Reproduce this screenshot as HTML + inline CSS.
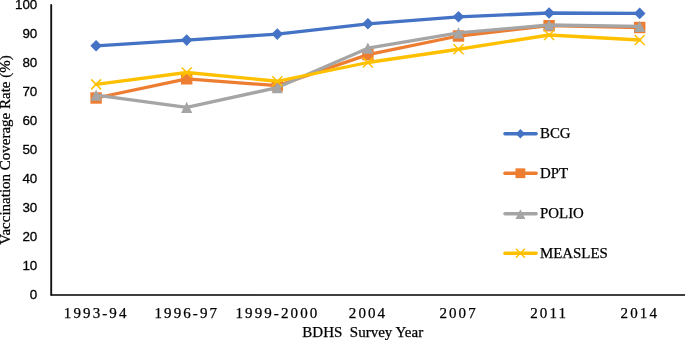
<!DOCTYPE html>
<html><head><meta charset="utf-8"><title>Vaccination coverage</title>
<style>
html,body{margin:0;padding:0;background:#fff;}
body{width:685px;height:340px;overflow:hidden;position:relative;}
svg{position:absolute;left:0;top:0;display:block;}
.yt{font-family:"Liberation Sans","DejaVu Sans",sans-serif;font-size:13.4px;fill:#000;text-anchor:end;stroke:#000;stroke-width:0.3px;}
.xt{font-family:"Liberation Serif",serif;font-size:15px;fill:#000;stroke:#000;stroke-width:0.25px;text-anchor:middle;letter-spacing:2.1px;}
.lg{font-family:"Liberation Serif",serif;font-size:14.9px;fill:#000;stroke:#000;stroke-width:0.25px;}
.ti{font-family:"Liberation Serif",serif;font-size:15px;fill:#000;stroke:#000;stroke-width:0.25px;}
</style></head><body>
<svg width="685" height="340" viewBox="0 0 685 340">
<rect width="685" height="340" fill="#fff"/>
<path d="M51.2 4.9V294.7" fill="none" stroke="#141414" stroke-width="1.9" stroke-linecap="round"/>
<path d="M51.4 295.0H686" fill="none" stroke="#000" stroke-width="1.7" stroke-linecap="round"/>
<text class="yt" x="37.3" y="299.10">0</text>
<text class="yt" x="37.3" y="270.11">10</text>
<text class="yt" x="37.3" y="241.12">20</text>
<text class="yt" x="37.3" y="212.13">30</text>
<text class="yt" x="37.3" y="183.14">40</text>
<text class="yt" x="37.3" y="154.15">50</text>
<text class="yt" x="37.3" y="125.16">60</text>
<text class="yt" x="37.3" y="96.17">70</text>
<text class="yt" x="37.3" y="67.18">80</text>
<text class="yt" x="37.3" y="38.19">90</text>
<text class="yt" x="37.3" y="9.20">100</text>
<polyline points="96.10,45.80 186.70,40.10 277.30,34.10 367.90,23.80 458.50,16.80 549.10,13.00 639.70,13.40" fill="none" stroke="#4472C4" stroke-width="3.3" stroke-linejoin="round" stroke-linecap="round"/>
<path d="M90.30 45.80L96.10 40.00L101.90 45.80L96.10 51.60Z" fill="#4472C4"/>
<path d="M180.90 40.10L186.70 34.30L192.50 40.10L186.70 45.90Z" fill="#4472C4"/>
<path d="M271.50 34.10L277.30 28.30L283.10 34.10L277.30 39.90Z" fill="#4472C4"/>
<path d="M362.10 23.80L367.90 18.00L373.70 23.80L367.90 29.60Z" fill="#4472C4"/>
<path d="M452.70 16.80L458.50 11.00L464.30 16.80L458.50 22.60Z" fill="#4472C4"/>
<path d="M543.30 13.00L549.10 7.20L554.90 13.00L549.10 18.80Z" fill="#4472C4"/>
<path d="M633.90 13.40L639.70 7.60L645.50 13.40L639.70 19.20Z" fill="#4472C4"/>
<polyline points="96.10,98.00 186.70,78.80 277.30,85.70 367.90,54.60 458.50,36.00 549.10,25.70 639.70,27.50" fill="none" stroke="#ED7D31" stroke-width="3.3" stroke-linejoin="round" stroke-linecap="round"/>
<rect x="90.40" y="92.30" width="11.40" height="11.40" fill="#ED7D31"/>
<rect x="181.00" y="73.10" width="11.40" height="11.40" fill="#ED7D31"/>
<rect x="271.60" y="80.00" width="11.40" height="11.40" fill="#ED7D31"/>
<rect x="362.20" y="48.90" width="11.40" height="11.40" fill="#ED7D31"/>
<rect x="452.80" y="30.30" width="11.40" height="11.40" fill="#ED7D31"/>
<rect x="543.40" y="20.00" width="11.40" height="11.40" fill="#ED7D31"/>
<rect x="634.00" y="21.80" width="11.40" height="11.40" fill="#ED7D31"/>
<polyline points="96.10,95.20 186.70,107.40 277.30,87.60 367.90,48.20 458.50,32.90 549.10,25.00 639.70,26.30" fill="none" stroke="#A5A5A5" stroke-width="3.3" stroke-linejoin="round" stroke-linecap="round"/>
<path d="M90.50 100.80L96.10 89.60L101.70 100.80Z" fill="#A5A5A5"/>
<path d="M181.10 113.00L186.70 101.80L192.30 113.00Z" fill="#A5A5A5"/>
<path d="M271.70 93.20L277.30 82.00L282.90 93.20Z" fill="#A5A5A5"/>
<path d="M362.30 53.80L367.90 42.60L373.50 53.80Z" fill="#A5A5A5"/>
<path d="M452.90 38.50L458.50 27.30L464.10 38.50Z" fill="#A5A5A5"/>
<path d="M543.50 30.60L549.10 19.40L554.70 30.60Z" fill="#A5A5A5"/>
<path d="M634.10 31.90L639.70 20.70L645.30 31.90Z" fill="#A5A5A5"/>
<polyline points="96.10,84.35 186.70,72.50 277.30,81.25 367.90,62.50 458.50,49.25 549.10,35.00 639.70,40.00" fill="none" stroke="#FFC000" stroke-width="3.3" stroke-linejoin="round" stroke-linecap="round"/>
<path d="M91.10 79.35L101.10 89.35M91.10 89.35L101.10 79.35" stroke="#FFC000" stroke-width="1.5" fill="none"/>
<path d="M181.70 67.50L191.70 77.50M181.70 77.50L191.70 67.50" stroke="#FFC000" stroke-width="1.5" fill="none"/>
<path d="M272.30 76.25L282.30 86.25M272.30 86.25L282.30 76.25" stroke="#FFC000" stroke-width="1.5" fill="none"/>
<path d="M362.90 57.50L372.90 67.50M362.90 67.50L372.90 57.50" stroke="#FFC000" stroke-width="1.5" fill="none"/>
<path d="M453.50 44.25L463.50 54.25M453.50 54.25L463.50 44.25" stroke="#FFC000" stroke-width="1.5" fill="none"/>
<path d="M544.10 30.00L554.10 40.00M544.10 40.00L554.10 30.00" stroke="#FFC000" stroke-width="1.5" fill="none"/>
<path d="M634.70 35.00L644.70 45.00M634.70 45.00L644.70 35.00" stroke="#FFC000" stroke-width="1.5" fill="none"/>
<text class="xt" x="96.20" y="318.2">1993-94</text>
<text class="xt" x="186.80" y="318.2">1996-97</text>
<text class="xt" x="277.40" y="318.2">1999-2000</text>
<text class="xt" x="368.00" y="318.2">2004</text>
<text class="xt" x="458.60" y="318.2">2007</text>
<text class="xt" x="549.20" y="318.2">2011</text>
<text class="xt" x="639.80" y="318.2">2014</text>
<path d="M504.9 133.75H536.2" stroke="#4472C4" stroke-width="3.3" stroke-linecap="round" fill="none"/>
<path d="M515.70 133.75L520.40 129.05L525.10 133.75L520.40 138.45Z" fill="#4472C4"/>
<text class="lg" x="540.0" y="138.45">BCG</text>
<path d="M504.9 173.25H536.2" stroke="#ED7D31" stroke-width="3.3" stroke-linecap="round" fill="none"/>
<rect x="515.50" y="168.35" width="9.80" height="9.80" fill="#ED7D31"/>
<text class="lg" x="540.0" y="177.95">DPT</text>
<path d="M504.9 213.75H536.2" stroke="#A5A5A5" stroke-width="3.3" stroke-linecap="round" fill="none"/>
<path d="M515.50 218.95L520.40 209.15L525.30 218.95Z" fill="#A5A5A5"/>
<text class="lg" x="540.0" y="218.45">POLIO</text>
<path d="M504.9 253.25H536.2" stroke="#FFC000" stroke-width="3.3" stroke-linecap="round" fill="none"/>
<path d="M515.90 248.75L524.90 257.75M515.90 257.75L524.90 248.75" stroke="#FFC000" stroke-width="1.4" fill="none"/>
<text class="lg" x="540.0" y="257.95">MEASLES</text>
<text class="ti" x="302.3" y="336.5" xml:space="preserve">BDHS  Survey Year</text>
<text class="ti" transform="translate(10.0 150) rotate(-90)" text-anchor="middle">Vaccination Coverage Rate (%)</text>
</svg>
</body></html>
